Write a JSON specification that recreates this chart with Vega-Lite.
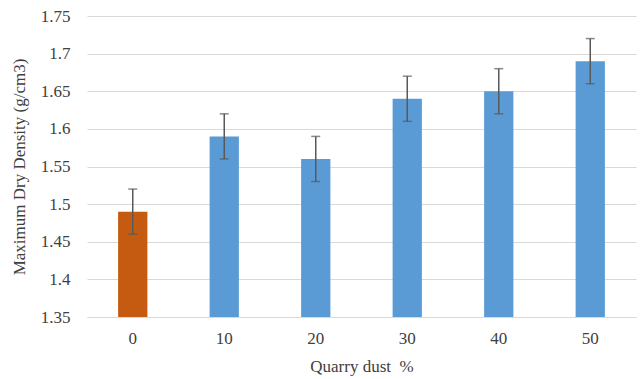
{
  "$schema": "https://vega.github.io/schema/vega-lite/v6.json",
  "width": 549,
  "height": 301,
  "autosize": {"type": "none"},
  "padding": {"left": 87, "top": 16, "right": 4, "bottom": 62},
  "background": "white",
  "config": {
    "view": {"stroke": null},
    "font": "Liberation Serif",
    "axis": {"labelFont": "Liberation Serif", "titleFont": "Liberation Serif", "labelFontSize": 17, "titleFontSize": 17, "titleFontWeight": "normal", "labelColor": "#404040", "titleColor": "#404040", "labelOverlap": false},
    "axisY": {"values": [1.35, 1.4, 1.45, 1.5, 1.55, 1.6, 1.65, 1.7, 1.75], "labelExpr": "format(datum.value, '.3~f')", "labelOverlap": false, "labelBound": false, "domain": false, "ticks": false, "gridColor": "#d9d9d9", "gridWidth": 1.2, "labelPadding": 17, "titlePadding": 12}
  },
  "data": {
    "values": [
      {"dust": "0", "mdd": 1.49, "lo": 1.46, "hi": 1.52, "grp": "control"},
      {"dust": "10", "mdd": 1.59, "lo": 1.56, "hi": 1.62, "grp": "mix"},
      {"dust": "20", "mdd": 1.56, "lo": 1.53, "hi": 1.59, "grp": "mix"},
      {"dust": "30", "mdd": 1.64, "lo": 1.61, "hi": 1.67, "grp": "mix"},
      {"dust": "40", "mdd": 1.65, "lo": 1.62, "hi": 1.68, "grp": "mix"},
      {"dust": "50", "mdd": 1.69, "lo": 1.66, "hi": 1.72, "grp": "mix"}
    ]
  },
  "encoding": {
    "x": {"field": "dust", "type": "ordinal", "sort": null,
      "scale": {"paddingInner": 0.68, "paddingOuter": 0.34},
      "axis": {"title": "Quarry dust\u00a0\u00a0%", "labelAngle": 0, "ticks": false, "domain": true, "domainColor": "#d9d9d9", "labelPadding": 13, "titlePadding": 12, "grid": false}}
  },
  "layer": [
    {
      "mark": {"type": "bar", "clip": true},
      "encoding": {
        "y": {"field": "mdd", "type": "quantitative",
          "scale": {"domain": [1.35, 1.75], "zero": false, "nice": false},
          "axis": {"title": "Maximum Dry Density (g/cm3)", "values": [1.35, 1.4, 1.45, 1.5, 1.55, 1.6, 1.65, 1.7, 1.75]}},
        "color": {"field": "grp", "type": "nominal", "scale": {"domain": ["control", "mix"], "range": ["#C55A11", "#5B9BD5"]}, "legend": null}
      }
    },
    {
      "mark": {"type": "rule", "color": "#595959", "strokeWidth": 1.5},
      "encoding": {
        "y": {"field": "lo", "type": "quantitative", "axis": {"title": "Maximum Dry Density (g/cm3)", "values": [1.35, 1.4, 1.45, 1.5, 1.55, 1.6, 1.65, 1.7, 1.75]}},
        "y2": {"field": "hi"}
      }
    },
    {
      "mark": {"type": "tick", "color": "#595959", "thickness": 1.5, "size": 9, "orient": "horizontal"},
      "encoding": {"y": {"field": "lo", "type": "quantitative", "axis": {"title": "Maximum Dry Density (g/cm3)", "values": [1.35, 1.4, 1.45, 1.5, 1.55, 1.6, 1.65, 1.7, 1.75]}}}
    },
    {
      "mark": {"type": "tick", "color": "#595959", "thickness": 1.5, "size": 9, "orient": "horizontal"},
      "encoding": {"y": {"field": "hi", "type": "quantitative", "axis": {"title": "Maximum Dry Density (g/cm3)", "values": [1.35, 1.4, 1.45, 1.5, 1.55, 1.6, 1.65, 1.7, 1.75]}}}
    }
  ]
}
